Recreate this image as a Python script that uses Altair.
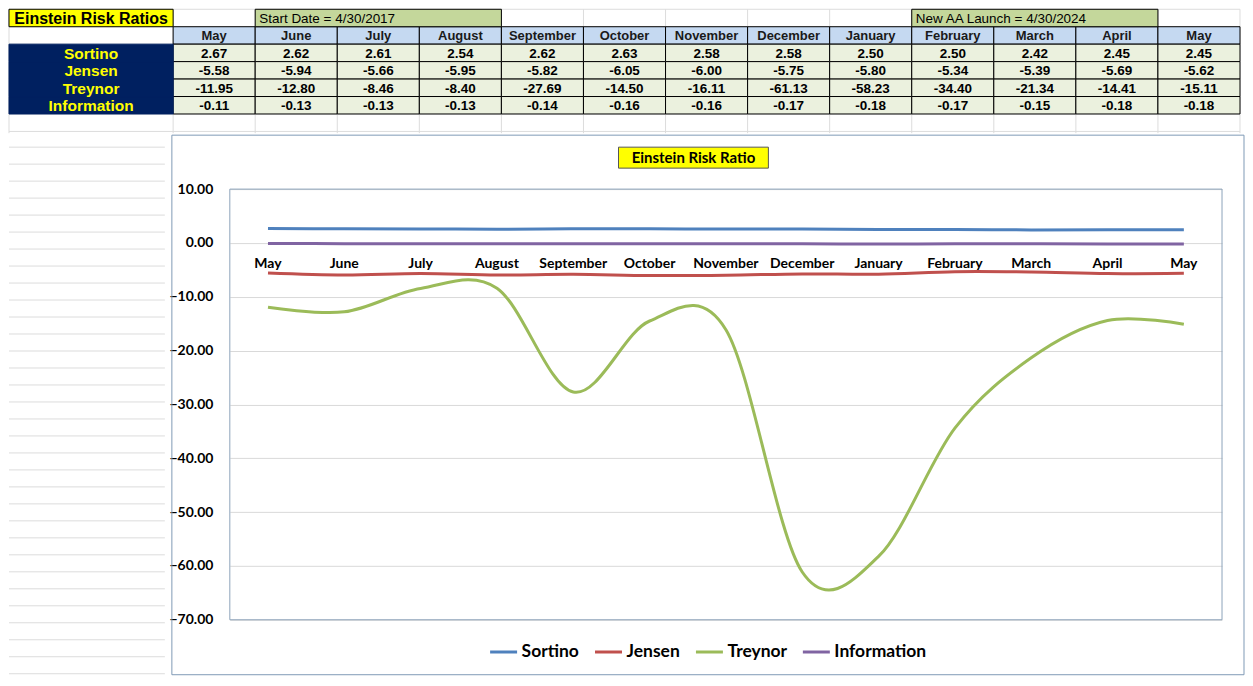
import altair as alt
import pandas as pd

# ---------------- data ----------------
months = ["May", "June", "July", "August", "September", "October", "November",
          "December", "January", "February", "March", "April", "May"]
series_names = ["Sortino", "Jensen", "Treynor", "Information"]
sortino = [2.67, 2.62, 2.61, 2.54, 2.62, 2.63, 2.58, 2.58, 2.50, 2.50, 2.42, 2.45, 2.45]
jensen = [-5.58, -5.94, -5.66, -5.95, -5.82, -6.05, -6.00, -5.75, -5.80, -5.34, -5.39, -5.69, -5.62]
treynor = [-11.95, -12.80, -8.46, -8.40, -27.69, -14.50, -16.11, -61.13, -58.23, -34.40, -21.34, -14.41, -15.11]
information = [-0.11, -0.13, -0.13, -0.13, -0.14, -0.16, -0.16, -0.17, -0.18, -0.17, -0.15, -0.18, -0.18]
series_colors = ["#4F81BD", "#C0504D", "#9BBB59", "#8064A2"]
y_ticks = [10, 0, -10, -20, -30, -40, -50, -60, -70]

table_title = "Einstein Risk Ratios"
chart_title = "Einstein Risk Ratio"
note_texts = ["Start Date = 4/30/2017", "New AA Launch = 4/30/2024"]
note_first_month = [1, 9]   # column index of first month under the note
note_last_month = [3, 11]   # column index of last month under the note

NARROW = "Liberation Sans, Arial, sans-serif"
FONT = "Lato, Open Sans, sans-serif"
SHEET_GRID = "#DCDCDC"

# ---------------- table ----------------
all_values = [sortino, jensen, treynor, information]
header_cells = []
data_cells = []
for c, m in enumerate(months):
    header_cells.append(dict(x=c, x2=c + 1, y=1, y2=2, xc=c + 0.5, yc=1.5, text=m))
    for r, vals in enumerate(all_values):
        data_cells.append(dict(x=c, x2=c + 1, y=r + 2, y2=r + 3, xc=c + 0.5, yc=r + 2.5,
                               text=f"{vals[c]:.2f}"))
header_df = pd.DataFrame(header_cells)
data_df = pd.DataFrame(data_cells)

labels_df = pd.DataFrame([dict(x=-2, x2=0, y=r + 2, y2=r + 3, xc=-1, yc=r + 2.5, text=n)
                          for r, n in enumerate(series_names)])
title_df = pd.DataFrame([dict(x=-2, x2=0, y=0, y2=1, xc=-1, yc=0.5, text=table_title)])
notes_df = pd.DataFrame([dict(x=f, x2=l + 1, y=0, y2=1, xc=f, yc=0.5, text=t)
                         for t, f, l in zip(note_texts, note_first_month, note_last_month)])

TABLE_ROWS = 7.1
TX = alt.Scale(domain=[-2, 13], nice=False, zero=False)
TY = alt.Scale(domain=[0, TABLE_ROWS], nice=False, zero=False, reverse=True)

# spreadsheet gridlines (cell boundaries)
sheet_cols = pd.DataFrame(dict(x=[-2] + list(range(0, 14)), y=[0] * 15, y2=[TABLE_ROWS] * 15))
sheet_rows = pd.DataFrame(dict(y=list(range(0, 8)), x=[-2] * 8, x2=[13] * 8))


def rect_enc():
    return dict(x=alt.X("x:Q", scale=TX, axis=None), x2="x2:Q",
                y=alt.Y("y:Q", scale=TY, axis=None), y2="y2:Q")


def text_enc():
    return dict(x=alt.X("xc:Q", scale=TX, axis=None),
                y=alt.Y("yc:Q", scale=TY, axis=None), text="text:N")


grid_v = alt.Chart(sheet_cols).mark_rule(color=SHEET_GRID, strokeWidth=1).encode(
    x=alt.X("x:Q", scale=TX, axis=None), y=alt.Y("y:Q", scale=TY, axis=None), y2="y2:Q")
grid_h = alt.Chart(sheet_rows).mark_rule(color=SHEET_GRID, strokeWidth=1).encode(
    x=alt.X("x:Q", scale=TX, axis=None), x2="x2:Q", y=alt.Y("y:Q", scale=TY, axis=None))

header_rects = alt.Chart(header_df).mark_rect(color="#C5D9F1", stroke="black", strokeWidth=1).encode(**rect_enc())
data_rects = alt.Chart(data_df).mark_rect(color="#EBF1DE", stroke="black", strokeWidth=1).encode(**rect_enc())
header_text = alt.Chart(header_df).mark_text(font=NARROW, fontSize=13, fontWeight="bold",
                                             color="#1A1A1A", baseline="middle", dy=1).encode(**text_enc())
data_text = alt.Chart(data_df).mark_text(font=NARROW, fontSize=13.5, fontWeight="bold",
                                         color="black", baseline="middle", dy=1).encode(**text_enc())
label_rects = alt.Chart(labels_df).mark_rect(color="#002060", stroke="#002060").encode(**rect_enc())
label_text = alt.Chart(labels_df).mark_text(font=NARROW, fontSize=15.5, fontWeight="bold",
                                            color="#FFFF00", baseline="middle", dy=1).encode(**text_enc())
title_rect = alt.Chart(title_df).mark_rect(color="#FFFF00", stroke="black").encode(**rect_enc())
title_text = alt.Chart(title_df).mark_text(font=NARROW, fontSize=16, fontWeight="bold",
                                           color="black", baseline="middle", dy=1).encode(**text_enc())
note_rects = alt.Chart(notes_df).mark_rect(color="#C4D79B", stroke="black").encode(**rect_enc())
note_text = alt.Chart(notes_df).mark_text(font=NARROW, fontSize=13.5, color="black",
                                          align="left", dx=4, baseline="middle", dy=1).encode(**text_enc())

table = alt.layer(grid_v, grid_h, header_rects, data_rects, label_rects, title_rect, note_rects,
                  header_text, data_text, label_text, title_text, note_text).properties(
    width=1232, height=124)

# ---------------- line chart ----------------
rows = []
for s, vals in zip(series_names, all_values):
    for i, (m, v) in enumerate(zip(months, vals)):
        rows.append(dict(idx=i, month=m, series=s, value=v))
line_df = pd.DataFrame(rows)
month_df = pd.DataFrame(dict(idx=list(range(len(months))), month=months, zero=[0] * len(months)))
one = pd.DataFrame(dict(label=[chart_title]))

W, H = 993, 431
LX = alt.Scale(domain=[-0.5, len(months) - 0.5], nice=False, zero=False)
LY = alt.Scale(domain=[-70, 10], nice=False, zero=False)

frame = alt.Chart(one).mark_rect(fillOpacity=0, stroke="#7F9AB6", strokeWidth=1).encode(
    x=alt.value(-58), x2=alt.value(1015), y=alt.value(-54), y2=alt.value(486))
plot_border = alt.Chart(one).mark_rect(fillOpacity=0, stroke="#8DA3BA", strokeWidth=1).encode(
    x=alt.value(0), x2=alt.value(W), y=alt.value(0), y2=alt.value(H))

lines = alt.Chart(line_df).mark_line(interpolate="cardinal", strokeWidth=3).encode(
    x=alt.X("idx:Q", scale=LX, axis=None),
    y=alt.Y("value:Q", scale=LY,
            axis=alt.Axis(values=y_ticks, format=".2f", title=None, ticks=False, domain=False,
                          labelFont=FONT, labelFontSize=14, labelFontWeight="bold",
                          labelColor="black", labelPadding=17, gridColor="#D9D9D9")),
    color=alt.Color("series:N", scale=alt.Scale(domain=series_names, range=series_colors),
                    legend=alt.Legend(orient="none", legendX=480, legendY=448,
                                      direction="horizontal", title=None, symbolType="stroke",
                                      symbolSize=729, symbolStrokeWidth=3, labelFont=FONT,
                                      labelFontSize=17.5, labelFontWeight="bold",
                                      labelColor="black", columnPadding=9, labelOffset=3)),
    order=alt.Order("idx:Q"))

month_labels = alt.Chart(month_df).mark_text(font=FONT, fontSize=14, fontWeight="bold",
                                             color="black", dy=21).encode(
    x=alt.X("idx:Q", scale=LX, axis=None),
    y=alt.Y("zero:Q", scale=LY),
    text="month:N")

title_box = alt.Chart(one).mark_rect(color="#FFFF00", stroke="#555555", strokeWidth=1).encode(
    x=alt.value(389), x2=alt.value(539), y=alt.value(-42), y2=alt.value(-21))
title_lbl = alt.Chart(one).mark_text(font=FONT, fontSize=15, fontWeight="bold", color="black",
                                     baseline="middle").encode(
    x=alt.value(464), y=alt.value(-31.5), text="label:N")

line_chart = alt.layer(frame, lines, month_labels, plot_border, title_box, title_lbl).properties(
    width=W, height=H)

# left margin of the sheet: empty rows with their gridlines
# (the spacer's origin lines up with the plot area's top; rows continue above and below it)
SPACER_W = 160
ROW_PX = 17
FIRST_ROW_PX = -42
LAST_ROW_PX = 486
d0 = -FIRST_ROW_PX / ROW_PX
left_rows = pd.DataFrame(dict(r=list(range(0, 32))))
spacer = alt.Chart(left_rows).mark_rule(color=SHEET_GRID, strokeWidth=1).encode(
    x=alt.value(0), x2=alt.value(SPACER_W - 4),
    y=alt.Y("r:Q", axis=None,
            scale=alt.Scale(domain=[d0, d0 + H / ROW_PX], nice=False, zero=False, reverse=True))
).transform_filter(alt.datum.r * ROW_PX + FIRST_ROW_PX <= LAST_ROW_PX).properties(
    width=SPACER_W, height=H)

chart = alt.vconcat(
    table,
    alt.hconcat(spacer, line_chart, spacing=0),
    spacing=0,
).properties(padding=0).resolve_scale(color="independent").configure_view(strokeWidth=0)

chart.save("out.html", embed_options={"renderer": "svg", "actions": False})
